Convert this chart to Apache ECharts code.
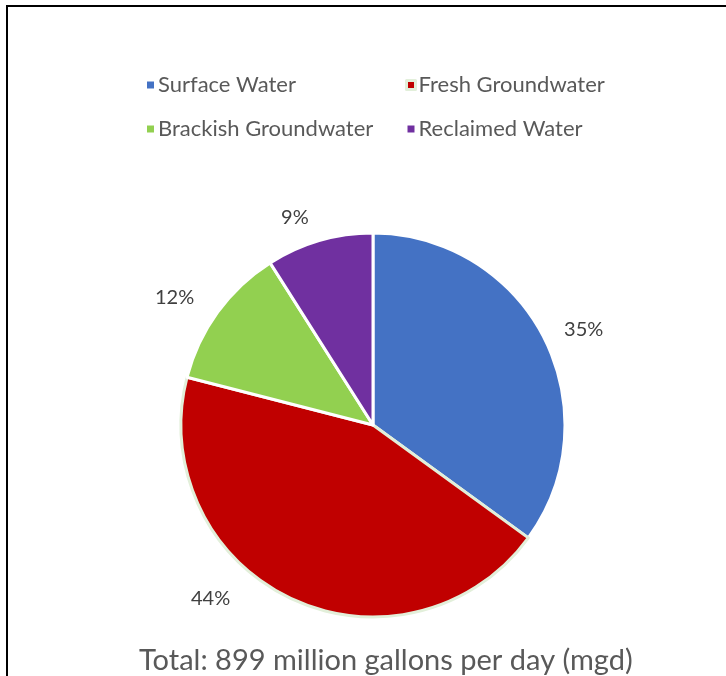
<!DOCTYPE html>
<html><head><meta charset="utf-8">
<script src="https://cdn.jsdelivr.net/npm/echarts@6/dist/echarts.min.js"></script>
<style>html,body{margin:0;padding:0;background:#fff}#c{width:726px;height:676px}</style>
</head><body><div id="c"></div>
<script>
const categories = ['Surface Water', 'Fresh Groundwater', 'Brackish Groundwater', 'Reclaimed Water'];
const values = [35, 44, 12, 9];
const colors = ['#4472C4', '#C00000', '#92D050', '#7030A0'];
const titleText = 'Total: 899 million gallons per day (mgd)';

const chart = echarts.init(document.getElementById('c'));
const font = 'Lato, "Open Sans", sans-serif';
const legendCommon = {
  orient: 'vertical', icon: 'rect', itemWidth: 9, itemHeight: 9, itemGap: 22,
  textStyle: {fontFamily: font, fontSize: 22, color: '#595959', padding: [0,0,0,-2]},
  selectedMode: false
};
chart.setOption({
  animation: false,
  title: {text: titleText, left: 134, top: 641,
    textStyle: {fontFamily: font, fontSize: 29, fontWeight: 'normal', color: '#595959'}},
  legend: [
    Object.assign({left: 140, top: 69, data: [categories[0], categories[2]]}, legendCommon),
    Object.assign({left: 400, top: 69, data: [
      {name: categories[1], itemStyle: {borderColor: '#E2EFDA', borderWidth: 3}},
      categories[3]]}, legendCommon)
  ],
  graphic: [{type: 'polyline', shape: {points: [[7, 676], [7, 6], [726, 6]]},
    style: {stroke: '#000', lineWidth: 2, fill: null}}],
  series: [{
    type: 'pie', radius: 192, center: [373, 425], startAngle: 90,
    avoidLabelOverlap: false,
    itemStyle: {borderColor: '#fff', borderWidth: 3},
    label: {show: true, position: 'outside', formatter: '{c}%', fontFamily: font,
      fontSize: 20, color: '#404040', distanceToLabelLine: 4},
    labelLine: {show: false, length: 24, length2: 0},
    data: categories.map((n, i) => {
      const d = {name: n, value: values[i], itemStyle: {color: colors[i]}};
      if (i === 0) {
        d.labelLine = {show: false, length: 18, length2: 0};
      }
      if (i === 1) {
        d.itemStyle.borderColor = '#E2EFDA';
        d.labelLine = {show: false, length: 0, length2: 57};
      }
      return d;
    })
  }]
});
</script></body></html>
